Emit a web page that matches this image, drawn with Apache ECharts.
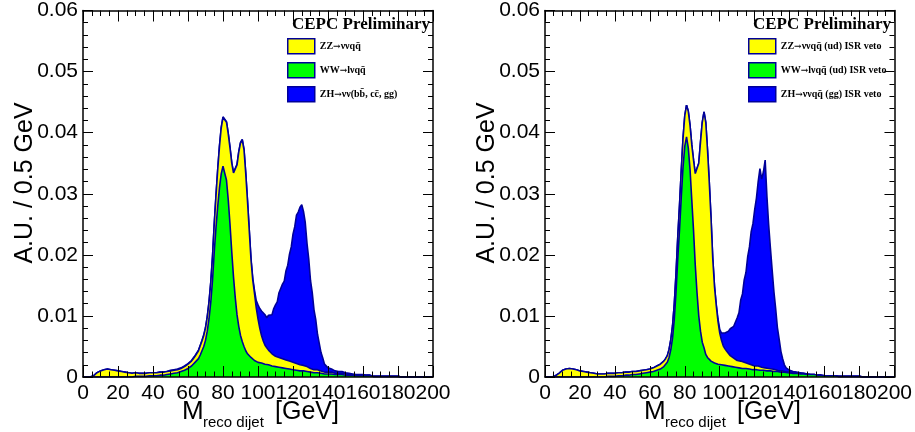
<!DOCTYPE html>
<html><head><meta charset="utf-8">
<script src="https://cdn.jsdelivr.net/npm/echarts@6/dist/echarts.min.js"></script>
<style>html,body{margin:0;padding:0;background:#fff}#c{width:915px;height:432px}</style>
</head><body><div id="c"></div>
<script>
// bin centres (GeV)
const massPoints = [
0,2,4,6,8,10,12,14,16,18,
20,22,24,26,28,30,32,34,36,38,
40,42,44,46,48,50,52,54,56,58,
60,61,62,63,64,65,66,67,68,69,
70,71,72,73,74,75,76,77,78,79,
80,81,82,83,84,85,86,87,88,89,
90,91,92,93,94,95,96,97,98,99,
100,101,102,103,104,105,106,107,108,109,
110,111,112,113,114,115,116,117,118,119,
120,121,122,123,124,125,126,127,128,129,
130,131,132,133,134,135,136,137,138,139,
140,
142,144,146,148,150,152,154,156,158,160,
162,164,166,168,170,172,174,176,178,180,
182,184,186,188,190,192,194,196,198,200];

const xTicks = [0,20,40,60,80,100,120,140,160,180,200];
const yTicks = [0,0.01,0.02,0.03,0.04,0.05,0.06];

// left panel
const wwLeft = [
0,0,0,0,0,0,0,0,0,0,
0,0,0,0,0,0.0001,0.0001,0.0001,0.0001,0.0002,
0.0002,0.0002,0.0003,0.0003,0.0004,0.0005,0.0006,0.0007,0.0009,0.0011,
0.0014,0.0016,0.0018,0.0021,0.0024,0.0026,0.0030,0.0036,0.0043,0.0050,
0.0060,0.0075,0.0095,0.0122,0.0158,0.0205,0.0245,0.0280,0.0310,0.0333,
0.0345,0.0342,0.0322,0.0290,0.0250,0.0205,0.0164,0.0130,0.0102,0.0083,
0.0068,0.0058,0.0050,0.0043,0.0038,0.0035,0.0032,0.0029,0.0027,0.0025,
0.0024,0.0023,0.0023,0.0022,0.0021,0.0021,0.0020,0.0019,0.0018,0.0018,
0.0017,0.0016,0.0016,0.0015,0.0015,0.0014,0.0014,0.0013,0.0013,0.0012,
0.0012,0.0012,0.0011,0.0011,0.0010,0.0010,0.0010,0.0009,0.0009,0.0008,
0.0008,0.0008,0.0007,0.0007,0.0007,0.0006,0.0006,0.0006,0.0005,0.0005,
0.0005,
0.0005,0.0004,0.0004,0.0004,0.0003,0.0003,0.0003,0.0002,0.0002,0.0002,
0.0002,0.0002,0.0001,0.0001,0.0001,0.0001,0.0001,0.0001,0.0001,0.0001,
0,0,0,0,0,0,0,0,0,0];

const zzLeft = [
0,0,0,0.0002,0.0007,0.0010,0.0012,0.0013,0.0012,0.0011,
0.0010,0.0009,0.0008,0.0007,0.0006,0.0006,0.0005,0.0005,0.0005,0.0005,
0.0005,0.0005,0.0005,0.0005,0.0005,0.0005,0.0005,0.0005,0.0005,0.0006,
0.0007,0.0007,0.0008,0.0009,0.0010,0.0011,0.0013,0.0015,0.0016,0.0018,
0.0020,0.0023,0.0027,0.0032,0.0038,0.0045,0.0052,0.0060,0.0068,0.0075,
0.0080,0.0086,0.0095,0.0108,0.0125,0.0145,0.0170,0.0205,0.0245,0.0285,
0.0315,0.0330,0.0322,0.0290,0.0250,0.0205,0.0160,0.0130,0.0110,0.0088,
0.0071,0.0057,0.0045,0.0037,0.0031,0.0027,0.0024,0.0022,0.0020,0.0019,
0.0017,0.0017,0.0016,0.0016,0.0015,0.0015,0.0014,0.0014,0.0013,0.0013,
0.0012,0.0012,0.0011,0.0011,0.0010,0.0009,0.0009,0.0008,0.0008,0.0007,
0.0006,0.0006,0.0005,0.0005,0.0005,0.0004,0.0004,0.0004,0.0003,0.0003,
0.0003,
0.0003,0.0002,0.0002,0.0002,0.0002,0.0001,0.0001,0.0001,0.0001,0.0001,
0.0001,0.0001,0,0,0,0,0,0,0,0,
0,0,0,0,0,0,0,0,0,0];

const zhLeft = [
0,0,0,0,0,0,0,0,0,0,
0,0,0,0,0,0,0,0,0,0,
0,0,0,0,0,0.0001,0.0001,0.0001,0.0001,0.0001,
0.0001,0.0001,0.0001,0.0001,0.0001,0.0001,0.0001,0.0001,0.0001,0.0001,
0.0001,0.0001,0.0001,0.0001,0.0001,0.0001,0.0001,0.0001,0.0001,0.0001,
0.0001,0.0001,0.0001,0.0001,0.0001,0.0001,0.0001,0.0001,0.0001,0.0001,
0.0001,0.0001,0.0001,0.0001,0.0001,0.0001,0.0002,0.0003,0.0005,0.0012,
0.0023,0.0032,0.0040,0.0046,0.0050,0.0049,0.0057,0.0062,0.0064,0.0075,
0.0084,0.0090,0.0106,0.0108,0.0122,0.0128,0.0146,0.0156,0.0175,0.0188,
0.0210,0.0222,0.0243,0.0248,0.0258,0.0263,0.0252,0.0236,0.0202,0.0178,
0.0144,0.0124,0.0098,0.0082,0.0058,0.0045,0.0030,0.0021,0.0013,0.0010,
0.0007,
0.0005,0.0004,0.0003,0.0003,0.0002,0.0002,0.0001,0.0001,0.0001,0.0001,
0,0,0,0,0,0,0,0,0,0,
0,0,0,0,0,0,0,0,0,0];

// right panel
const wwRight = [
0,0,0,0,0,0,0,0,0,0,
0,0,0,0,0,0,0,0,0.0001,0.0001,
0.0001,0.0002,0.0002,0.0003,0.0003,0.0004,0.0004,0.0005,0.0006,0.0007,
0.0008,0.0008,0.0009,0.0010,0.0011,0.0012,0.0013,0.0015,0.0017,0.0020,
0.0024,0.0032,0.0045,0.0064,0.0095,0.0140,0.0195,0.0242,0.0295,0.0344,
0.0378,0.0393,0.0375,0.0340,0.0290,0.0240,0.0183,0.0138,0.0100,0.0075,
0.0057,0.0048,0.0037,0.0032,0.0029,0.0026,0.0024,0.0023,0.0022,0.0021,
0.0020,0.0020,0.0019,0.0019,0.0018,0.0018,0.0017,0.0017,0.0016,0.0016,
0.0015,0.0015,0.0015,0.0014,0.0014,0.0014,0.0013,0.0013,0.0013,0.0012,
0.0012,0.0012,0.0012,0.0011,0.0011,0.0011,0.0011,0.0010,0.0010,0.0010,
0.0010,0.0009,0.0009,0.0009,0.0008,0.0008,0.0008,0.0008,0.0007,0.0007,
0.0007,
0.0006,0.0006,0.0005,0.0005,0.0004,0.0004,0.0004,0.0003,0.0003,0.0002,
0.0002,0.0002,0.0002,0.0001,0.0001,0.0001,0.0001,0.0001,0.0001,0.0001,
0,0,0,0,0,0,0,0,0,0];

const zzRight = [
0,0,0,0.0002,0.0006,0.0011,0.0013,0.0014,0.0013,0.0012,
0.0010,0.0009,0.0008,0.0007,0.0006,0.0005,0.0005,0.0005,0.0005,0.0005,
0.0005,0.0005,0.0005,0.0005,0.0005,0.0005,0.0005,0.0005,0.0005,0.0005,
0.0005,0.0005,0.0006,0.0006,0.0007,0.0007,0.0008,0.0008,0.0009,0.0010,
0.0011,0.0013,0.0016,0.0020,0.0025,0.0030,0.0035,0.0040,0.0044,0.0047,
0.0050,0.0052,0.0060,0.0072,0.0090,0.0115,0.0150,0.0195,0.0250,0.0310,
0.0360,0.0386,0.0380,0.0340,0.0290,0.0235,0.0170,0.0125,0.0095,0.0070,
0.0052,0.0040,0.0032,0.0027,0.0024,0.0021,0.0018,0.0016,0.0015,0.0013,
0.0012,0.0012,0.0011,0.0010,0.0010,0.0009,0.0009,0.0008,0.0007,0.0007,
0.0006,0.0006,0.0006,0.0005,0.0005,0.0005,0.0004,0.0004,0.0004,0.0003,
0.0003,0.0003,0.0003,0.0002,0.0002,0.0002,0.0002,0.0001,0.0001,0.0001,
0.0001,
0.0001,0.0001,0.0001,0.0001,0.0001,0,0,0,0,0,
0,0,0,0,0,0,0,0,0,0,
0,0,0,0,0,0,0,0,0,0];

const zhRight = [
0,0,0,0,0,0,0,0,0,0,
0,0,0,0,0,0,0,0,0,0,
0,0,0,0,0,0,0,0,0,0,
0,0,0,0,0,0,0,0,0,0,
0,0,0,0,0,0,0,0,0,0,
0,0,0,0,0,0,0,0,0,0,
0,0,0,0,0,0,0.0001,0.0001,0.0002,0.0004,
0.0006,0.0012,0.0020,0.0026,0.0032,0.0036,0.0044,0.0043,0.0052,0.0055,
0.0070,0.0078,0.0100,0.0112,0.0135,0.0148,0.0175,0.0192,0.0218,0.0232,
0.0256,0.0275,0.0302,0.0325,0.0308,0.0320,0.0340,0.0282,0.0235,0.0198,
0.0162,0.0128,0.0100,0.0070,0.0052,0.0032,0.0020,0.0011,0.0007,0.0004,
0.0003,
0.0002,0.0001,0.0001,0,0,0,0,0,0,0,
0,0,0,0,0,0,0,0,0,0,
0,0,0,0,0,0,0,0,0,0];

const namesLeft = ['ZZ\u2192\u03bd\u03bdqq\u0304', 'WW\u2192l\u03bdqq\u0304', 'ZH\u2192\u03bd\u03bd(bb\u0304, cc\u0304, gg)'];
const namesRight = ['ZZ\u2192\u03bd\u03bdqq\u0304 (ud) ISR veto', 'WW\u2192l\u03bdqq\u0304 (ud) ISR veto', 'ZH\u2192\u03bd\u03bdqq\u0304 (gg) ISR veto'];
const fills = ['#ffff00', '#00ff00', '#0000ff'];
const OUT = '#000099';

const chart = echarts.init(document.getElementById('c'));

function xAx(g, pos) {
  return {type:'value', gridIndex:g, position:pos, min:xTicks[0], max:xTicks[xTicks.length-1], interval:xTicks[1]-xTicks[0], z:10,
    axisLine:{show:true, onZero:false, lineStyle:{color:'#000', width:1.5}},
    axisTick:{show:true, inside:true, length:11, lineStyle:{color:'#000', width:1}},
    minorTick:{show:true, splitNumber:4, length:5.5, lineStyle:{color:'#000', width:1}},
    axisLabel:{show: pos==='bottom', fontFamily:'Liberation Sans', fontSize:21, color:'#000', margin:6},
    splitLine:{show:false}, minorSplitLine:{show:false}};
}
function yAx(g, pos) {
  return {type:'value', gridIndex:g, position:pos, min:yTicks[0], max:yTicks[yTicks.length-1], interval:yTicks[1]-yTicks[0], z:10,
    axisLine:{show:true, onZero:false, lineStyle:{color:'#000', width:1.5}},
    axisTick:{show:true, inside:true, length:10, lineStyle:{color:'#000', width:1}},
    minorTick:{show:true, splitNumber:5, length:5, lineStyle:{color:'#000', width:1}},
    axisLabel:{show: pos==='left', fontFamily:'Liberation Sans', fontSize:21, color:'#000', margin:5,
      formatter: v => (Math.abs(v) < 1e-9 ? '0' : v.toFixed(2))},
    splitLine:{show:false}, minorSplitLine:{show:false}};
}
// stacked tops, built from the per-process arrays (as THStack draws them)
function cum(...arrs) { return massPoints.map((m,i)=>[m, arrs.reduce((s,a)=>s+a[i],0)]); }
function mk(name, pts, g, fill, z) {
  return {type:'line', name, xAxisIndex:g*2, yAxisIndex:g*2,
    data: pts, symbol:'none', showSymbol:false, smooth:false,
    lineStyle:{color:OUT, width:1.6}, areaStyle:{color:fill, opacity:1}, itemStyle:{color:fill},
    z, silent:true, animation:false};
}
function legendFor(names, left) {
  return {left, top:38, orient:'vertical', itemWidth:27, itemHeight:15, itemGap:7.5, icon:'rect', selectedMode:false,
    padding:0,
    formatter: n => n.replace('\u2192', '{ar|\u2192}'),
    textStyle:{fontFamily:'Liberation Serif', fontWeight:'bold', fontSize:10, color:'#000',
      rich:{ar:{fontFamily:'DejaVu Serif', fontWeight:'bold', fontSize:9, color:'#000'}}},
    data: names.map((n,i)=>({name:n, itemStyle:{color:fills[i], borderColor:OUT, borderWidth:1.5}}))};
}
function xTitle(x0) {
  return [
    {type:'text', x:x0, y:412, style:{text:'M', fontFamily:'Liberation Sans', fontSize:26, fill:'#000', align:'left', verticalAlign:'middle'}},
    {type:'text', x:x0+21, y:423, style:{text:'reco dijet', fontFamily:'Liberation Sans', fontSize:15, fill:'#000', align:'left', verticalAlign:'middle'}},
    {type:'text', x:x0+93, y:412, style:{text:'[GeV]', fontFamily:'Liberation Sans', fontSize:25, fill:'#000', align:'left', verticalAlign:'middle'}}
  ];
}

chart.setOption({
  animation:false,
  backgroundColor:'#fff',
  grid:[{left:83, top:10, width:350, height:367}, {left:545, top:10, width:350, height:367}],
  xAxis:[xAx(0,'bottom'), xAx(0,'top'), xAx(1,'bottom'), xAx(1,'top')],
  yAxis:[yAx(0,'left'), yAx(0,'right'), yAx(1,'left'), yAx(1,'right')],
  title:[
    {text:'CEPC Preliminary', left:292, top:16, padding:0, textStyle:{fontFamily:'Liberation Serif', fontWeight:'bold', fontSize:17, color:'#000'}},
    {text:'CEPC Preliminary', left:753, top:16, padding:0, textStyle:{fontFamily:'Liberation Serif', fontWeight:'bold', fontSize:17, color:'#000'}}
  ],
  legend:[legendFor(namesLeft, 287), legendFor(namesRight, 748)],
  series:[
    mk(namesLeft[2], cum(wwLeft, zzLeft, zhLeft), 0, fills[2], 3),
    mk(namesLeft[0], cum(wwLeft, zzLeft), 0, fills[0], 4),
    mk(namesLeft[1], cum(wwLeft), 0, fills[1], 5),
    mk(namesRight[2], cum(wwRight, zzRight, zhRight), 1, fills[2], 3),
    mk(namesRight[0], cum(wwRight, zzRight), 1, fills[0], 4),
    mk(namesRight[1], cum(wwRight), 1, fills[1], 5)
  ],
  graphic:[
    {type:'text', x:25, y:183, rotation:Math.PI/2, style:{text:'A.U. / 0.5 GeV', fontFamily:'Liberation Sans', fontSize:25, fill:'#000', align:'center', verticalAlign:'middle'}},
    {type:'text', x:487, y:183, rotation:Math.PI/2, style:{text:'A.U. / 0.5 GeV', fontFamily:'Liberation Sans', fontSize:25, fill:'#000', align:'center', verticalAlign:'middle'}}
  ].concat(xTitle(182), xTitle(644))
});
</script></body></html>
